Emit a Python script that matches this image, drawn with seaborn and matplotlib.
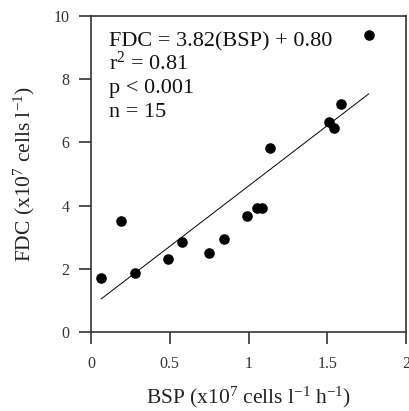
import matplotlib
matplotlib.use("Agg")
import matplotlib.pyplot as plt
import seaborn as sns
import numpy as np
import pandas as pd

# Data
bsp = [0.064, 0.19, 0.28, 0.486, 0.58, 0.747, 0.845, 0.99, 1.055, 1.087, 1.136, 1.514, 1.546, 1.59, 1.764]
fdc = [1.70, 3.50, 1.88, 2.32, 2.86, 2.51, 2.94, 3.68, 3.91, 3.91, 5.82, 6.66, 6.47, 7.23, 9.41]
slope = 3.82
intercept = 0.80
x_ticks = [0, 0.5, 1, 1.5, 2]
x_tick_labels = ["0", "0.5", "1", "1.5", "2"]
y_ticks = [0, 2, 4, 6, 8, 10]
stats_lines = ["FDC = 3.82(BSP) + 0.80", r"r$^{2}$ = 0.81", "p < 0.001", "n = 15"]

sns.set_style("ticks")
plt.rcParams['font.family'] = ['Liberation Serif', 'DejaVu Serif']
plt.rcParams['mathtext.fontset'] = 'custom'
plt.rcParams['mathtext.rm'] = 'Liberation Serif'
plt.rcParams['mathtext.it'] = 'Liberation Serif'
plt.rcParams['mathtext.default'] = 'regular'

df = pd.DataFrame({"BSP": bsp, "FDC": fdc})
fit_x = np.array([min(bsp), max(bsp)])
fit_df = pd.DataFrame({"BSP": fit_x, "FDC": slope * fit_x + intercept})

fig = plt.figure(figsize=(4.09, 4.11), dpi=100)
ax = fig.add_axes([91/409, 1 - 332/411, 315/409, 316/411])

sns.lineplot(data=fit_df, x="BSP", y="FDC", ax=ax, color="black", linewidth=0.7)
sns.scatterplot(data=df, x="BSP", y="FDC", ax=ax, color="black", s=58, edgecolor="black", linewidth=0, zorder=3)

ax.set_xlim(0, 2)
ax.set_ylim(0, 10)
ax.set_xticks(x_ticks)
ax.set_xticklabels(x_tick_labels)
ax.set_yticks(y_ticks)
for s in ax.spines.values():
    s.set_visible(True)
    s.set_linewidth(1.2)
    s.set_color("#333333")
ax.tick_params(direction="out", length=8.5, width=1.2, color="#333333", labelsize=11.5,
               labelcolor="#333333")
ax.tick_params(axis="x", pad=9)
ax.tick_params(axis="y", pad=7)

ax.set_xlabel(r"BSP (x10$^{7}$ cells l$^{-1}$ h$^{-1}$)", fontsize=15.5, labelpad=9, color="#222222")
ax.set_ylabel(r"FDC (x10$^{7}$ cells l$^{-1}$)", fontsize=15.5, labelpad=12, color="#222222")

ys = [0.905, 0.829, 0.756, 0.680]
for t, yy in zip(stats_lines, ys):
    ax.text(0.057, yy, t, transform=ax.transAxes, fontsize=16, va="baseline", ha="left", color="#111111")

fig.savefig("out.png", dpi=100)
